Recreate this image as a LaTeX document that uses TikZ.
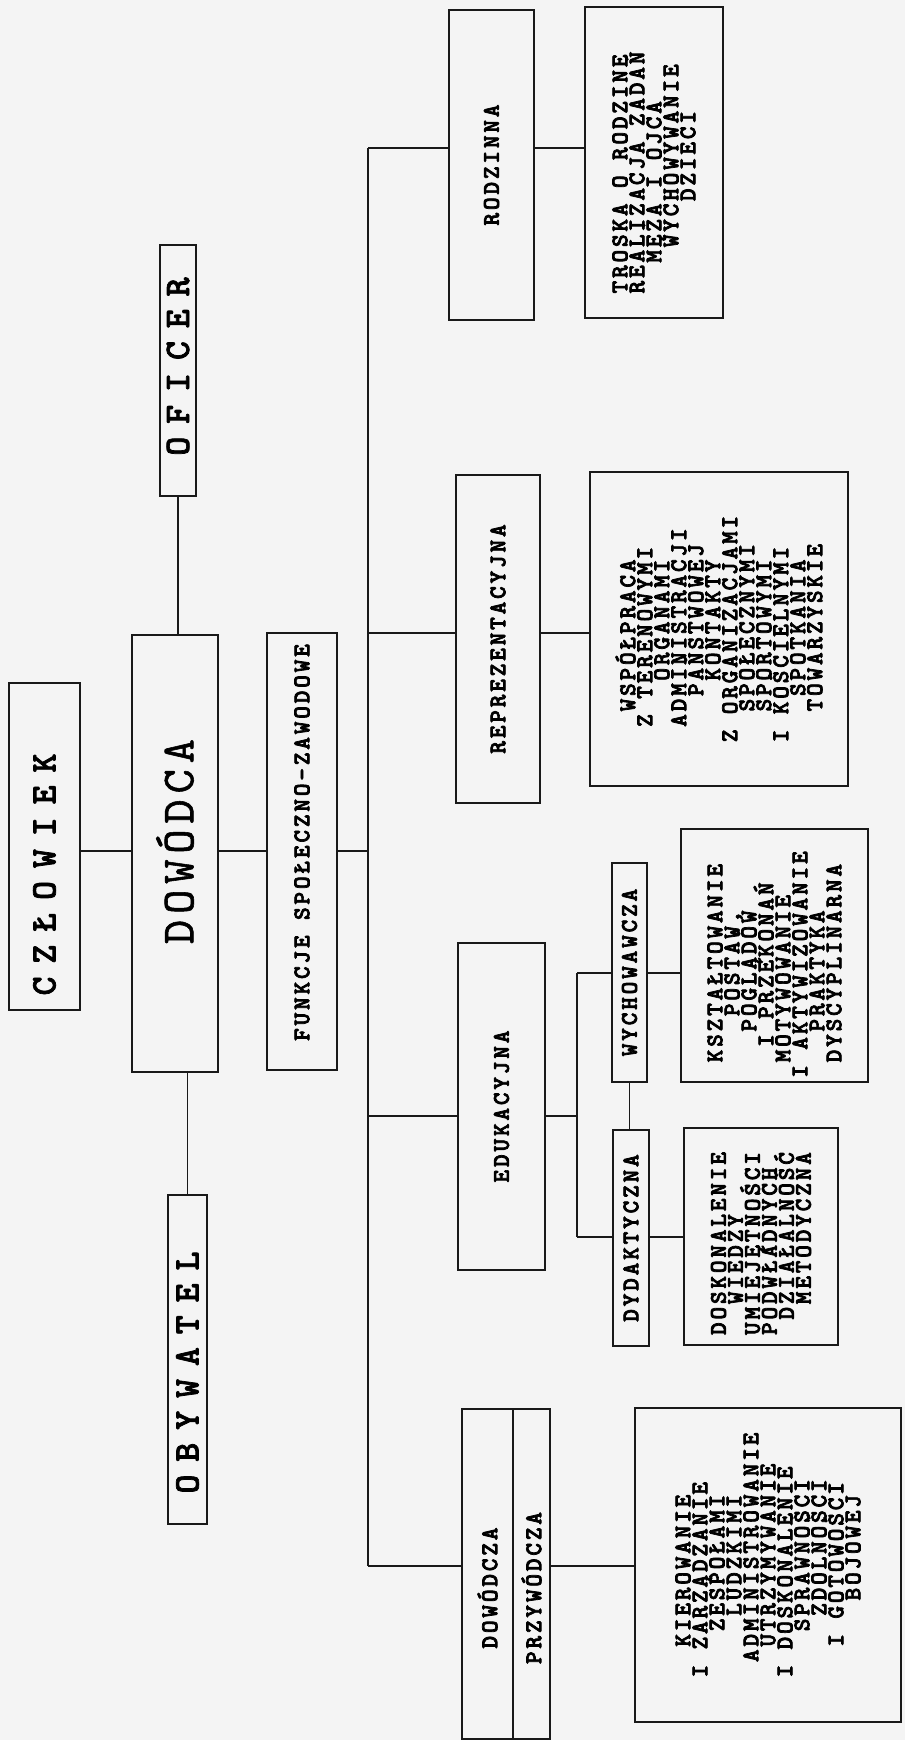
\documentclass[tikz,border=0pt]{standalone}
\usepackage{fontspec}
\usepackage{graphicx}
\usetikzlibrary{positioning}
\definecolor{paper}{RGB}{244, 244, 244}
\definecolor{ink}{RGB}{25, 25, 25}
\newfontfamily\typer{lmmonolt10-bold.otf}[LetterSpace=12, FakeBold=3]
\newfontfamily\typewide{lmmonolt10-bold.otf}[LetterSpace=36, FakeBold=2]
\newfontfamily\typebig{lmmono10-regular.otf}[LetterSpace=13, FakeBold=1.2]
\newlength\pitch
\setlength\pitch{15.4pt}
\newcommand\ind[1]{\kern#1\pitch\relax\ignorespaces}
\newcommand\headtxt[1]{\rotatebox{90}{\typer\fontsize{24}{17}\selectfont #1}}
\newcommand\widetxt[1]{\rotatebox{90}{\typewide\fontsize{36}{40}\selectfont #1}}
\newcommand\typeblock[2][0pt]{\rotatebox{90}{\vbox{\typer\fontsize{24}{17}\selectfont\lineskiplimit=-30pt\halign{##\hfil\cr#2\crcr}}\kern#1}}
\tikzset{
  box/.style={draw=ink, line width=1.4pt, inner sep=0pt},
  link/.style={draw=ink, line width=1.3pt},
}

\begin{document}
\begin{tikzpicture}[x=1pt, y=-1pt]
  % paper
  \fill[paper] (0,0) rectangle (905,1740);
  \useasboundingbox (0,0) rectangle (905,1740);

  % left column: the commander and his roles
  \node[box, minimum width=71pt, minimum height=327pt] (czl) at (44.5, 846.5) {\widetxt{CZŁOWIEK\kern56pt}};
  \node[box, minimum width=86pt, minimum height=437pt] (dowodca) at (175, 853.5) {\rotatebox{90}{\kern24pt\typebig\fontsize{46}{50}\selectfont DOWÓDCA}};
  \node[box, minimum width=36pt, minimum height=251pt] (oficer) at (178, 370.5) {\widetxt{\kern8pt OFICER}};
  \node[box, minimum width=39pt, minimum height=329pt] (obyw) at (187.5, 1359.5) {\widetxt{OBYWATEL\kern26pt}};
  \node[box, minimum width=70pt, minimum height=437pt] (funk) at (302, 851.5) {\headtxt{\kern18pt FUNKCJE\ind1 SPOŁECZNO-ZAWODOWE}};

  % the four functions
  \node[box, minimum width=85pt, minimum height=310pt] (rodz) at (491.5, 165) {\headtxt{RODZINNA}};
  \node[box, minimum width=84pt, minimum height=328pt] (repr) at (498, 639) {\headtxt{REPREZENTACYJNA}};
  \node[box, minimum width=87pt, minimum height=327pt] (eduk) at (501.5, 1106.5) {\headtxt{EDUKACYJNA}};
  \node[box, minimum width=51pt, minimum height=330pt] (dowc) at (487.5, 1574) {\headtxt{DOWÓDCZA\kern28pt}};
  \node[box, minimum width=37pt, minimum height=330pt] (przyw) at (531.5, 1574) {\headtxt{PRZYWÓDCZA\kern28pt}};
  \node[box, minimum width=35pt, minimum height=219pt] (wych) at (629.5, 972.5) {\headtxt{WYCHOWAWCZA}};
  \node[box, minimum width=36pt, minimum height=216pt] (dydakt) at (631, 1238) {\headtxt{DYDAKTYCZNA}};

  % what each function covers
  \node[box, minimum width=138pt, minimum height=311pt] (troska) at (654, 162.5) {\typeblock[20pt]{
    TROSKA\ind1 O\ind1 RODZINE\cr
    REALIZACJA\ind1 ZADAŃ\cr
    \ind2 MĘŻA\ind1 I\ind1 OJCA\cr
    \ind3 WYCHOWYWANIE\cr
    \ind6 DZIECI}};
  \node[box, minimum width=258pt, minimum height=314pt] (wspol) at (719, 629) {\typeblock{
    \ind2 WSPÓŁPRACA\cr
    \ind1 Z\ind1 TERENOWYMI\cr
    \ind4 ORGANAMI\cr
    \ind1 ADMINISTRACJI\cr
    \ind3 PAŃSTWOWEJ\cr
    \ind4 KONTAKTY\cr
    Z\ind1 ORGANIZACJAMI\cr
    \ind2 SPOŁECZNYMI\cr
    \ind2 SPORTOWYMI\cr
    I\ind1 KOŚCIELNYMI\cr
    \ind3 SPOTKANIA\cr
    \ind2 TOWARZYSKIE}};
  \node[box, minimum width=187pt, minimum height=253pt] (kszt) at (774.5, 955.5) {\typeblock[18pt]{
    \ind1 KSZTAŁTOWANIE\cr
    \ind4 POSTAW,\cr
    \ind3 POGLĄDÓW\cr
    \ind2 I\ind1 PRZEKONAŃ\cr
    \ind1 MOTYWOWANIE\cr
    I\ind1 AKTYWIZOWANIE\cr
    \ind3 PRAKTYKA\cr
    \ind1 DYSCYPLINARNA}};
  \node[box, minimum width=154pt, minimum height=217pt] (dosk) at (761, 1236.5) {\typeblock[14pt]{
    DOSKONALENIE\cr
    \ind2 WIEDZY\cr
    UMIEJĘTNOŚCI\cr
    PODWŁADNYCH\cr
    \ind1 DZIAŁALNOŚĆ\cr
    \ind2 METODYCZNA}};
  \node[box, minimum width=266pt, minimum height=314pt] (kier) at (768, 1565) {\typeblock[-20pt]{
    \ind2 KIEROWANIE\cr
    I\ind1 ZARZĄDZANIE\cr
    \ind3 ZESPOŁAMI\cr
    \ind4 LUDZKIMI\cr
    \ind1 ADMINISTROWANIE\cr
    \ind2 UTRZYMYWANIE\cr
    I\ind1 DOSKONALENIE\cr
    \ind3 SPRAWNOŚCI\cr
    \ind4 ZDOLNOŚCI\cr
    \ind2 I\ind1 GOTOWOŚCI\cr
    \ind5 BOJOWEJ}};

  % connectors
  \coordinate (mid) at (250, 851);
  \coordinate (tTop) at (368, 148);
  \coordinate (tBot) at (368, 1566);
  \coordinate (rRow) at (368, 633);
  \coordinate (eRow) at (368, 1116);
  \coordinate (bTop) at (577, 973);
  \coordinate (bBot) at (577, 1237);

  \draw[link] (oficer.south) -- (oficer.south |- dowodca.north);
  \draw[link] (dowodca.south -| obyw.north) -- (obyw.north);
  \draw[link] (czl.east |- mid) -- (dowodca.west |- mid);
  \draw[link] (dowodca.east |- mid) -- (funk.west |- mid);
  \draw[link] (funk.east |- mid) -- (mid -| tTop);

  \draw[link] (tTop) -- (tBot);
  \draw[link] (tTop) -- (rodz.west |- tTop);
  \draw[link] (rodz.east |- tTop) -- (troska.west |- tTop);
  \draw[link] (rRow) -- (repr.west |- rRow);
  \draw[link] (repr.east |- rRow) -- (wspol.west |- rRow);
  \draw[link] (eRow) -- (eduk.west |- eRow);
  \draw[link] (eduk.east |- eRow) -- (eRow -| bTop);
  \draw[link] (bTop) -- (bBot);
  \draw[link] (bTop) -- (wych.west |- bTop);
  \draw[link] (bBot) -- (dydakt.west |- bBot);
  \draw[link] (wych.east |- bTop) -- (kszt.west |- bTop);
  \draw[link] (dydakt.east |- bBot) -- (dosk.west |- bBot);
  \draw[link] (wych.south) -- (wych.south |- dydakt.north);
  \draw[link] (tBot) -- (dowc.west |- tBot);
  \draw[link] (przyw.east |- tBot) -- (kier.west |- tBot);
\end{tikzpicture}
\end{document}
